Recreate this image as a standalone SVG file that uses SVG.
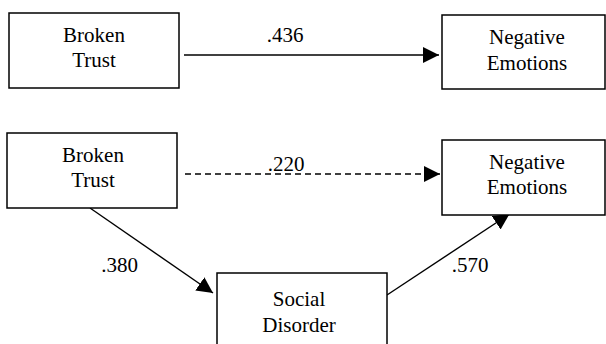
<svg xmlns="http://www.w3.org/2000/svg" width="606" height="344" viewBox="0 0 606 344">
<style>
.box{fill:#fff;stroke:#000;stroke-width:1.5}
.t{font-family:"Liberation Serif","Times New Roman",serif;font-size:21px;fill:#000;text-anchor:middle}
.c{fill:none;stroke:#000;stroke-width:1.4}
.d{stroke-dasharray:6 4}
</style>
<defs>
<marker id="ah" markerUnits="userSpaceOnUse" viewBox="0 0 16 16" refX="16" refY="8" markerWidth="16" markerHeight="16" orient="auto">
<path d="M0,0 L16,8 L0,16 Z" fill="#000"/>
</marker>
</defs>
<rect width="606" height="344" fill="#fff"/>
<g id="connectors">
<line class="c" x1="184" y1="55" x2="439" y2="55" marker-end="url(#ah)"/>
<line class="c d" x1="185" y1="174" x2="440" y2="174" marker-end="url(#ah)"/>
<line class="c" x1="90" y1="208" x2="213" y2="293" marker-end="url(#ah)"/>
<line class="c" x1="387" y1="295" x2="509.5" y2="214" marker-end="url(#ah)"/>
<text class="t" x="285" y="42">.436</text>
<text class="t" x="286" y="171">.220</text>
<text class="t" x="119.5" y="272">.380</text>
<text class="t" x="470" y="272">.570</text>
</g>
<g id="broken-trust-1">
<rect class="box" x="9" y="13" width="170" height="75"/>
<text class="t" x="94" y="42">Broken</text>
<text class="t" x="94" y="67">Trust</text>
</g>
<g id="negative-emotions-1">
<rect class="box" x="442" y="15" width="163" height="74"/>
<text class="t" x="527" y="44">Negative</text>
<text class="t" x="527" y="70">Emotions</text>
</g>
<g id="broken-trust-2">
<rect class="box" x="7" y="133" width="170" height="75"/>
<text class="t" x="93" y="162">Broken</text>
<text class="t" x="93" y="187">Trust</text>
</g>
<g id="negative-emotions-2">
<rect class="box" x="442" y="140" width="163" height="75"/>
<text class="t" x="527" y="169">Negative</text>
<text class="t" x="527" y="194">Emotions</text>
</g>
<g id="social-disorder">
<rect class="box" x="217" y="273" width="170" height="80"/>
<text class="t" x="299" y="306">Social</text>
<text class="t" x="299" y="332">Disorder</text>
</g>
</svg>
